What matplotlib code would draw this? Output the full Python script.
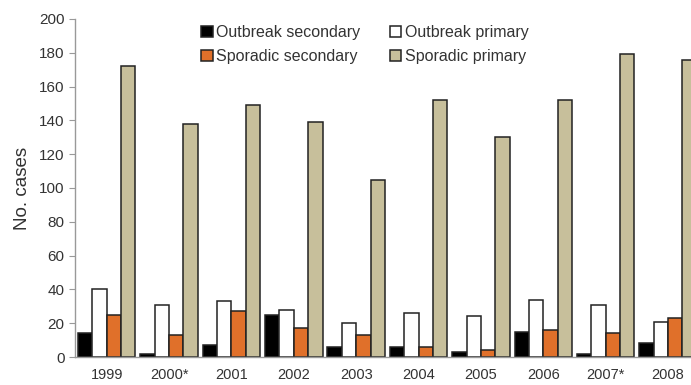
import numpy as np
import matplotlib.pyplot as plt

plt.rcParams['font.family'] = ['Liberation Sans', 'DejaVu Sans']

# Data
years = ['1999', '2000*', '2001', '2002', '2003', '2004', '2005', '2006', '2007*', '2008']
outbreak_secondary = [14, 2, 7, 25, 6, 6, 3, 15, 2, 8]
outbreak_primary = [40, 31, 33, 28, 20, 26, 24, 34, 31, 21]
sporadic_secondary = [25, 13, 27, 17, 13, 6, 4, 16, 14, 23]
sporadic_primary = [172, 138, 149, 139, 105, 152, 130, 152, 179, 176]

series = [outbreak_secondary, outbreak_primary, sporadic_secondary, sporadic_primary]
labels = ['Outbreak secondary', 'Outbreak primary', 'Sporadic secondary', 'Sporadic primary']
colors = ['#000000', '#ffffff', '#e0702a', '#c7bf9b']

fig = plt.figure(figsize=(6.91, 3.85), dpi=100)
ax = fig.add_axes([0.1085, 0.0727, 0.8915, 0.878])

x = np.arange(len(years))
w = 0.23
handles = []
for i, (vals, lab, col) in enumerate(zip(series, labels, colors)):
    b = ax.bar(x + (i - 1.5) * w, vals, width=w, color=col, edgecolor='#222222',
               linewidth=1.1, label=lab)
    handles.append(b)

ax.set_xlim(-0.51, 9.37)
ax.set_ylim(0, 200)
ax.set_yticks(range(0, 201, 20))
ax.set_xticks(x)
ax.set_xticklabels(years)
ax.set_ylabel('No. cases', fontsize=13.5, color='#333333', labelpad=6)

for s in ['top', 'right']:
    ax.spines[s].set_visible(False)
for s in ['left', 'bottom']:
    ax.spines[s].set_color('#999999')
    ax.spines[s].set_linewidth(1.0)
ax.tick_params(axis='y', labelsize=11, colors='#333333', color='#999999', length=4)
ax.tick_params(axis='x', labelsize=10.5, colors='#333333', length=0, pad=8)

# legend order as in the picture (row-wise)
leg = ax.legend(handles=[handles[0], handles[2], handles[1], handles[3]],
                labels=[labels[0], labels[2], labels[1], labels[3]],
                ncol=2, frameon=False, fontsize=11.5, loc='upper left',
                bbox_to_anchor=(0.182, 1.025), handlelength=0.7, handleheight=0.7,
                handletextpad=0.2, columnspacing=1.9, labelspacing=0.55)
for t in leg.get_texts():
    t.set_color('#333333')

plt.savefig('out.png', dpi=100)
